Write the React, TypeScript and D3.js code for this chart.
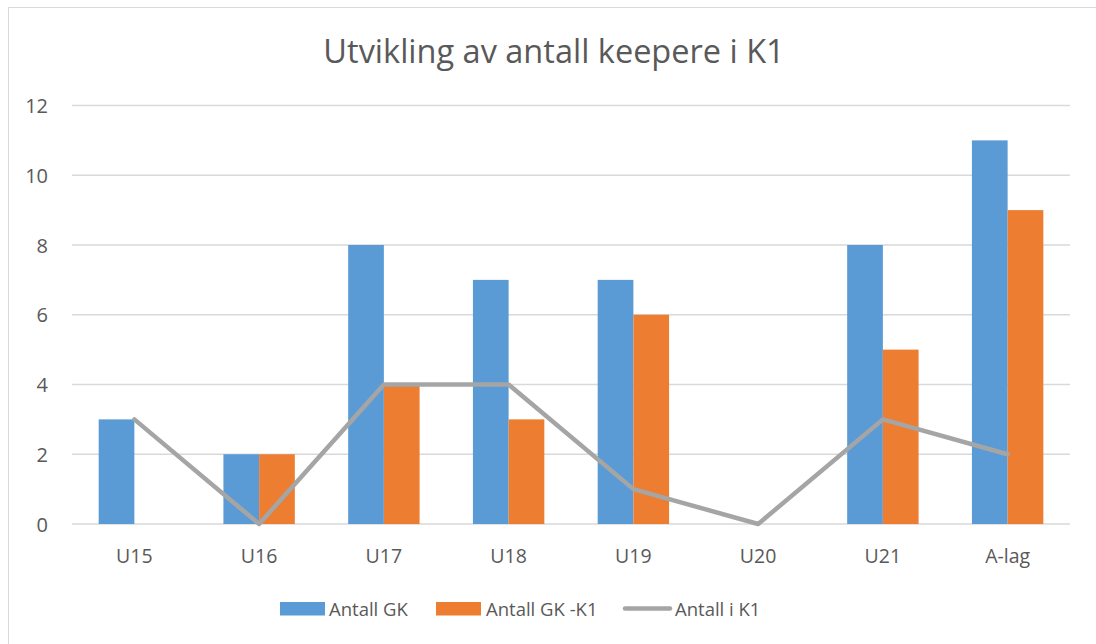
import React from "react";
import * as d3 from "d3";

const categories = ["U15", "U16", "U17", "U18", "U19", "U20", "U21", "A-lag"];
const antallGK = [3, 2, 8, 7, 7, 0, 8, 11];
const antallGKK1 = [0, 2, 4, 3, 6, 0, 5, 9];
const antallIK1 = [3, 0, 4, 4, 1, 0, 3, 2];
const yTicks = [0, 2, 4, 6, 8, 10, 12];
const seriesNames = ["Antall GK", "Antall GK -K1", "Antall i K1"];

const W = 1096;
const H = 644;
const FONT = "'Open Sans', sans-serif";
const TEXT = "#595959";
const BLUE = "#5b9bd5";
const ORANGE = "#ed7d31";
const GRAY = "#a5a5a5";
const GRID = "#d9d9d9";

export default function App() {
  const x = d3.scaleBand<string>().domain(categories).range([72, 1070]).padding(0);
  const x1 = d3
    .scaleBand<string>()
    .domain(["gk", "k1"])
    .range([0, x.bandwidth()])
    .paddingInner(0)
    .paddingOuter(0.747);
  const y = d3.scaleLinear().domain([0, 12]).range([524, 105.5]);

  const line = d3
    .line<number>()
    .x((_, i) => (x(categories[i]) as number) + x.bandwidth() / 2)
    .y((d) => y(d));

  const legend = [
    { kind: "rect", color: BLUE, sx: 280, tx: 329, label: seriesNames[0] },
    { kind: "rect", color: ORANGE, sx: 436, tx: 486, label: seriesNames[1] },
    { kind: "line", color: GRAY, sx: 623, tx: 675, label: seriesNames[2] },
  ];

  return (
    <svg
      width={W}
      height={H}
      style={{ position: "absolute", left: 0, top: 0, display: "block", background: "#fff" }}
    >
      <rect x={8.5} y={7.5} width={1100} height={700} fill="#fff" stroke={GRID} strokeWidth={1} />
      <text
        x={554}
        y={63}
        textAnchor="middle"
        fontFamily={FONT}
        fontSize={32.5}
        fill={TEXT}
      >
        Utvikling av antall keepere i K1
      </text>
      {yTicks.map((t) => (
        <g key={t}>
          <line x1={72} x2={1070} y1={y(t)} y2={y(t)} stroke={GRID} strokeWidth={1.3} />
          <text
            x={48}
            y={y(t)}
            textAnchor="end"
            dominantBaseline="central"
            fontFamily={FONT}
            fontSize={20}
            fill={TEXT}
          >
            {t}
          </text>
        </g>
      ))}
      {categories.map((c, i) => (
        <g key={c}>
          <rect
            x={(x(c) as number) + (x1("gk") as number)}
            y={y(antallGK[i])}
            width={x1.bandwidth()}
            height={y(0) - y(antallGK[i])}
            fill={BLUE}
          />
          <rect
            x={(x(c) as number) + (x1("k1") as number)}
            y={y(antallGKK1[i])}
            width={x1.bandwidth()}
            height={y(0) - y(antallGKK1[i])}
            fill={ORANGE}
          />
          <text
            x={(x(c) as number) + x.bandwidth() / 2}
            y={555}
            textAnchor="middle"
            dominantBaseline="central"
            fontFamily={FONT}
            fontSize={19.5}
            fill={TEXT}
          >
            {c}
          </text>
        </g>
      ))}
      <path
        d={line(antallIK1) || ""}
        fill="none"
        stroke={GRAY}
        strokeWidth={4.5}
        strokeLinejoin="round"
        strokeLinecap="round"
      />
      {legend.map((l) => (
        <g key={l.label}>
          {l.kind === "rect" ? (
            <rect x={l.sx} y={602} width={45} height={13.5} fill={l.color} />
          ) : (
            <line
              x1={l.sx + 2}
              x2={l.sx + 47}
              y1={608.5}
              y2={608.5}
              stroke={l.color}
              strokeWidth={4.5}
              strokeLinecap="round"
            />
          )}
          <text
            x={l.tx}
            y={608.5}
            dominantBaseline="central"
            fontFamily={FONT}
            fontSize={18.5}
            fill={TEXT}
          >
            {l.label}
          </text>
        </g>
      ))}
    </svg>
  );
}
